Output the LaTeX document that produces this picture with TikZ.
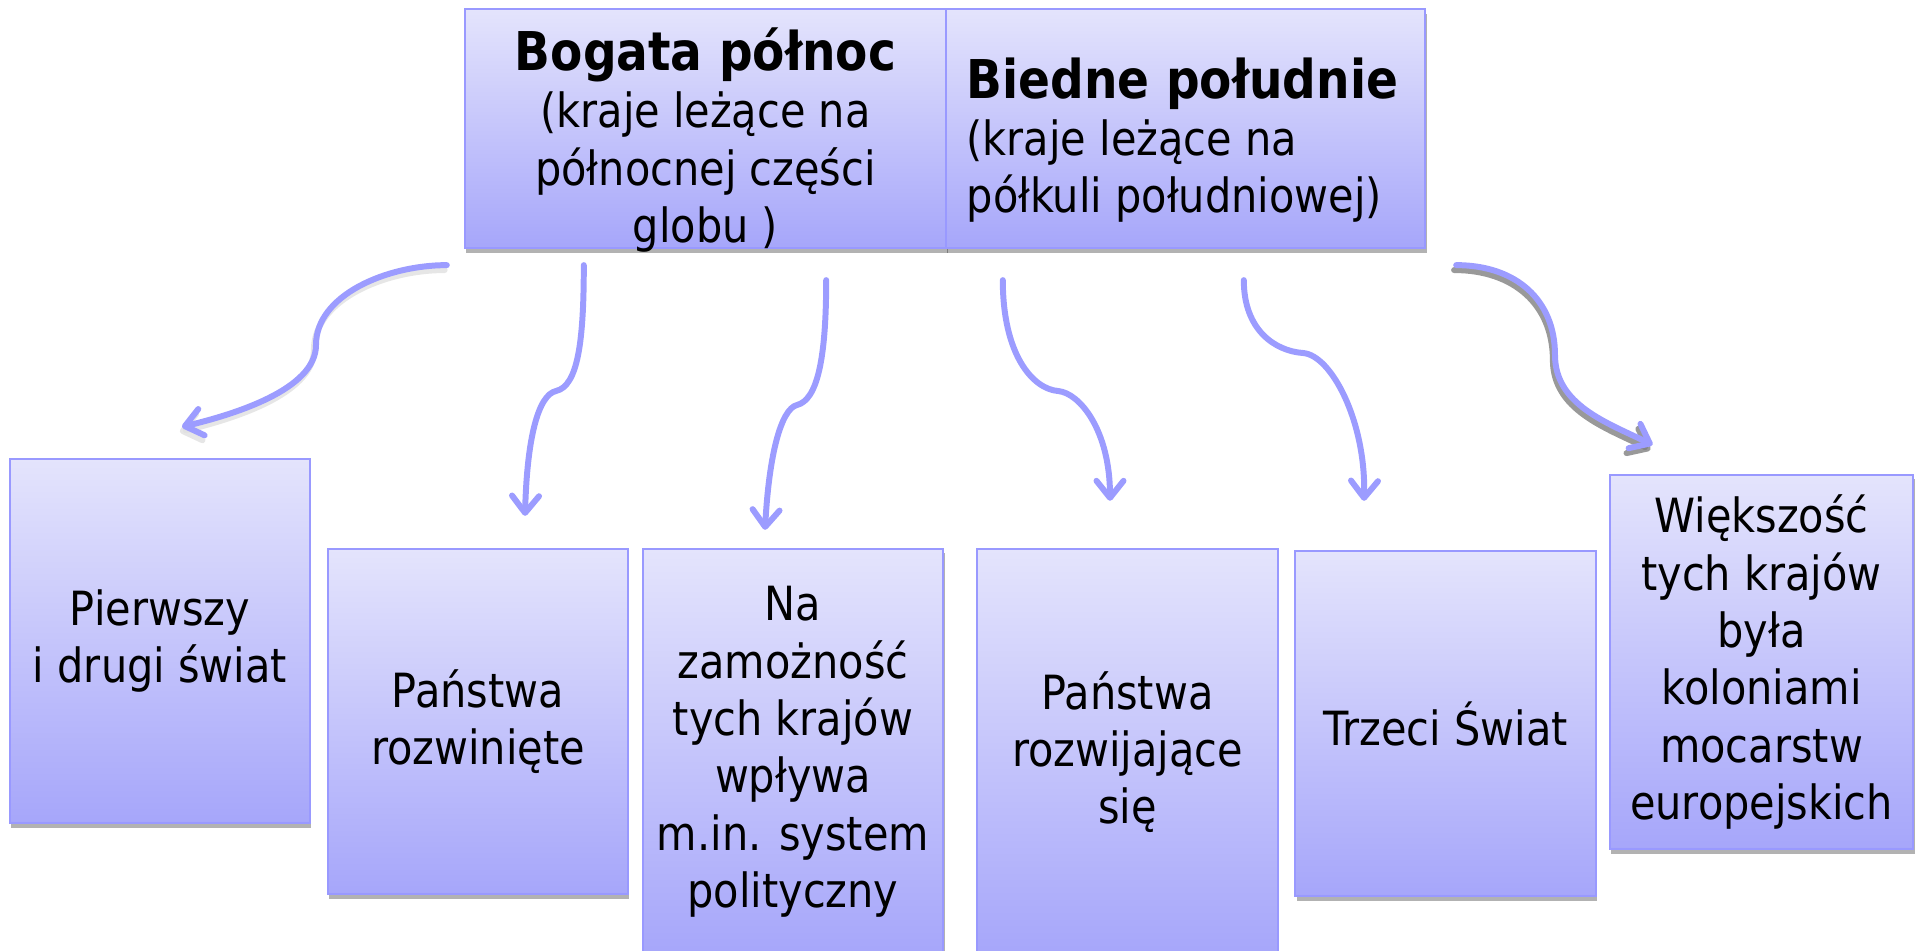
\documentclass[tikz,border=0pt]{standalone}
\usepackage{fontspec}
\setmainfont{DejaVu Sans}[FakeStretch=0.88]
\usepackage{tikz}
\usetikzlibrary{arrows.meta, shadows, calc}
\definecolor{boxtop}{RGB}{228, 228, 252}
\definecolor{boxbottom}{RGB}{166, 166, 250}
\definecolor{boxline}{RGB}{153, 153, 255}
\definecolor{arrowblue}{RGB}{156, 156, 255}
\tikzset{shadowed/.style={preaction={draw=black!#1, line width=1.7pt, line cap=round, opacity=0.8, transform canvas={xshift=-0.6pt, yshift=-1.4pt}}}}

\begin{document}
\begin{tikzpicture}[
        x=0.01cm, y=0.01cm,
        box/.style={rectangle, draw=boxline, line width=0.6pt, top color=boxtop, bottom color=boxbottom, minimum width=3cm, inner sep=0pt, align=center, font=\fontsize{13.4}{16.3}\selectfont, drop shadow={shadow xshift=0.4pt, shadow yshift=-1.3pt, opacity=0.3, fill=black}},
        toptext/.style={inner sep=0pt, font=\fontsize{13.4}{16.3}\selectfont},
        conn/.style={draw=arrowblue, line width=1.7pt, line cap=round, -{Straight Barb[length=0.17cm, width=0.27cm, line join=round, line cap=round]}}
    ]
        \useasboundingbox (0,0) rectangle (1920,-951);

        % Top boxes
        \node[box, minimum width=4.81cm, minimum height=2.39cm] (north) at (705.5,-128.5) {};
        \node[box, minimum width=4.79cm, minimum height=2.39cm] (south) at (1185.5,-128.5) {};
        \node[toptext, align=center] (northtxt) at (705.5,-140) {\textbf{\fontsize{15.2}{16.3}\selectfont Bogata północ}\\(kraje leżące na\\północnej części\\globu )};
        \node[toptext, align=left, anchor=west] (southtxt) at (966,-140) {\textbf{\fontsize{15.2}{16.3}\selectfont Biedne południe}\\(kraje leżące na\\półkuli południowej)};

        % Bottom boxes
        \node[box, minimum height=3.64cm] (b1) at (160,-641) {Pierwszy\\i drugi świat};
        \node[box, minimum height=3.45cm] (b2) at (478,-721.5) {Państwa\\rozwinięte};
        \node[box, minimum height=4.06cm] (b3) at (793,-752) {Na\\zamożność\\tych krajów\\wpływa\\m.in. system\\polityczny};
        \node[box, minimum height=4.06cm] (b4) at (1127.5,-752) {Państwa\\rozwijające\\się};
        \node[box, minimum height=3.45cm] (b5) at (1445.5,-723.5) {Trzeci Świat};
        \node[box, minimum width=3.03cm, minimum height=3.74cm] (b6) at (1761.5,-662) {Większość\\tych krajów\\była\\koloniami\\mocarstw\\europejskich};

        % Arrow ends
        \coordinate (s1) at ($(north.south west)+(-17,-16)$);
        \coordinate (s2) at ($(north.south west)+(120,-16)$);
        \coordinate (s3) at ($(north.south east)+(-121,-31)$);
        \coordinate (s4) at ($(south.south west)+(58,-31)$);
        \coordinate (s5) at ($(south.south west)+(299,-31)$);
        \coordinate (s6) at ($(south.south east)+(30,-16)$);
        \coordinate (e1) at ($(b1.north)+(22,31)$);
        \coordinate (e2) at ($(b2.north)+(47,32)$);
        \coordinate (e3) at ($(b3.north)+(-28,18)$);
        \coordinate (e4) at ($(b4.north)+(-17.5,47)$);
        \coordinate (e5) at ($(b5.north)+(-81.5,49)$);
        \coordinate (e6) at ($(b6.north)+(-109,29)$);
        \coordinate (m1) at (316,-345);
        \coordinate (m2) at (556,-391);
        \coordinate (m3) at (797,-405);
        \coordinate (m4) at (1058,-391);
        \coordinate (m5) at (1303,-353);
        \coordinate (m6) at (1555,-355);

        % Arrows
        \draw[conn, shadowed=12] (s1) .. controls +(-60,0) and +(0,50) .. (m1) .. controls +(0,-45) and +(50,12) .. (e1);
        \draw[conn] (s2) .. controls +(0,-76) and +(22,5) .. (m2) .. controls +(-18,-4) and +(2,77) .. (e2);
        \draw[conn] (s3) .. controls +(0,-80) and +(20,5) .. (m3) .. controls +(-16,-4) and +(4,75) .. (e3);
        \draw[conn] (s4) .. controls +(0,-75) and +(-25,2) .. (m4) .. controls +(22,-2) and +(0,70) .. (e4);
        \draw[conn] (s5) .. controls +(0,-50) and +(-28,2) .. (m5) .. controls +(28,-2) and +(2,80) .. (e5);
        \draw[conn, shadowed=50] (s6) .. controls +(60,0) and +(0,55) .. (m6) .. controls +(0,-50) and +(-45,22) .. (e6);
    \end{tikzpicture}
\end{document}
